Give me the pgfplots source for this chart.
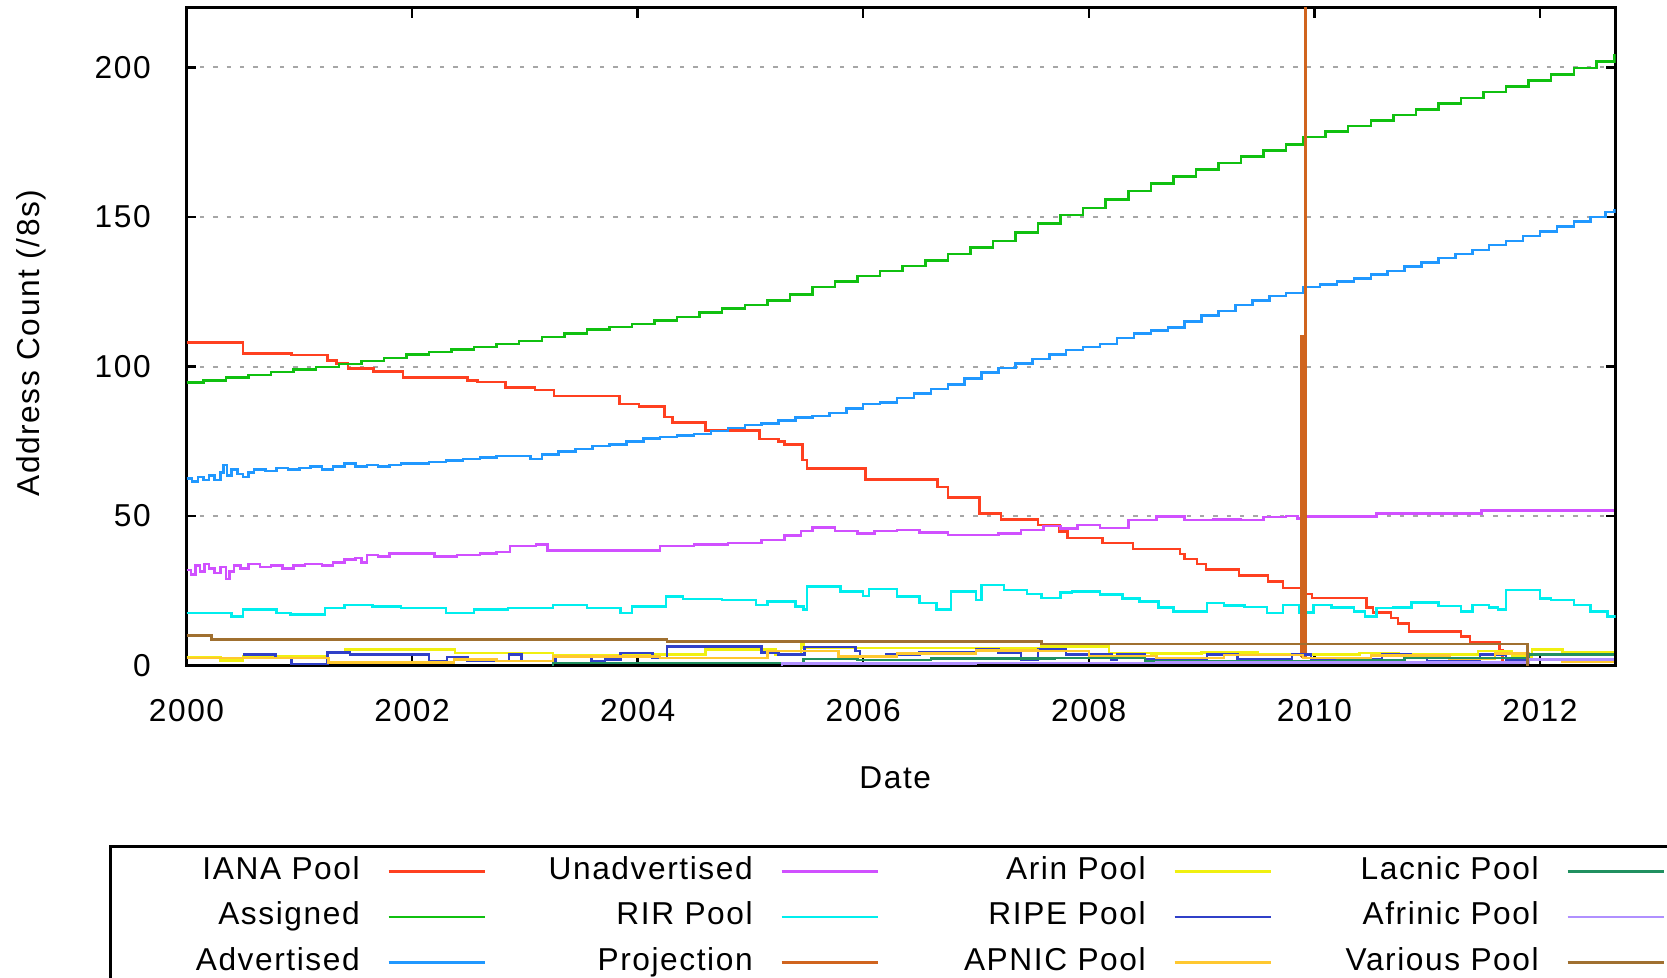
\documentclass[border=0pt]{standalone}
\usepackage{pgfplots}
\pgfplotsset{compat=1.18}
\usepackage{fontspec}
\setmainfont[LetterSpace=5]{Liberation Sans}
\definecolor{cIANA}{RGB}{255,64,32}
\definecolor{cAssigned}{RGB}{16,192,16}
\definecolor{cAdvertised}{RGB}{32,152,255}
\definecolor{cUnadv}{RGB}{208,80,255}
\definecolor{cRIR}{RGB}{0,238,238}
\definecolor{cProj}{RGB}{208,100,30}
\definecolor{cArin}{RGB}{240,240,16}
\definecolor{cRIPE}{RGB}{48,64,200}
\definecolor{cAPNIC}{RGB}{255,200,48}
\definecolor{cLacnic}{RGB}{32,144,96}
\definecolor{cAfrinic}{RGB}{176,144,255}
\definecolor{cVarious}{RGB}{160,112,48}
\newcommand{\lfont}{\fontsize{9.5}{11.4}\selectfont}
\begin{document}
\begin{tikzpicture}
\useasboundingbox (-55.95pt,-93.72pt) rectangle (444.15pt,199.68pt);
\clip (-55.95pt,-93.72pt) rectangle (444.15pt,199.68pt);
\begin{axis}[
  at={(0pt,0pt)}, anchor=south west,
  scale only axis, width=428.7pt, height=197.4pt,
  xmin=2000, xmax=2012.67, ymin=0, ymax=220,
  xtick={2000,2002,...,2012}, ytick={0,50,...,200},
  tick align=inside, major tick length=3pt,
  axis line style={line width=0.7pt},
  every tick/.style={black, line width=0.7pt},
  ymajorgrids,
  major grid style={line width=0.6pt, color=black!35, dash pattern=on 1.3pt off 2.7pt},
  /pgf/number format/assume math mode=true,
  tick label style={font=\lfont},
  xticklabel style={/pgf/number format/1000 sep=},
  xticklabel shift=6.5pt, yticklabel shift=7.2pt,
  label style={font=\lfont},
  xlabel={Date}, ylabel={Address Count (/8s)},
  xlabel style={at={(axis description cs:0.496,-0.1707)}, anchor=center},
  ylabel style={at={(axis description cs:-0.1085,0.49)}, anchor=center},
  no markers,
  every axis plot/.append style={line width=0.75pt},
  legend columns=4,
  legend plot pos=right,
  legend image code/.code={\path[draw=none,fill=none] (0pt,0pt) -- (43.2pt,0pt); \draw[#1, line width=0.75pt] (8.7pt,0pt) -- (37.5pt,0pt);},
  legend style={at={(axis description cs:0,0)}, anchor=north west, xshift=-23.1pt, yshift=-53.9pt,
    draw=black, line width=0.7pt, inner xsep=0pt, inner ysep=3pt,
    column sep=0pt, row sep=4.75pt, font=\lfont,
    nodes={inner sep=0pt, text height=6.9pt, text depth=2pt}},
]
% IANA Pool
\addplot[forget plot, const plot, cIANA] coordinates {
(2000.00,108) (2000.50,104.4) (2000.93,103.8) (2001.25,102) (2001.33,101) (2001.43,99.3)
(2001.66,98.3) (2001.92,96.4) (2002.49,95.3) (2002.58,94.8) (2002.83,93) (2003.09,92.1)
(2003.26,90.1) (2003.84,87.4) (2004.01,86.6) (2004.24,83.1) (2004.31,81.3) (2004.60,78.6)
(2005.08,75.8) (2005.25,74.9) (2005.30,74) (2005.46,68.7) (2005.50,65.9) (2006.02,62.3)
(2006.66,59.7) (2006.75,56.2) (2007.03,50.9) (2007.22,48.9) (2007.55,47) (2007.74,44.8)
(2007.81,42.7) (2008.12,41) (2008.39,39) (2008.81,37.3) (2008.85,35.7) (2008.96,34)
(2009.04,32.1) (2009.33,30.2) (2009.59,28.1) (2009.72,25.9) (2009.89,23.9) (2009.98,22.6)
(2010.46,19.4) (2010.52,17.8) (2010.68,15.9) (2010.74,14) (2010.84,11.4) (2011.30,9.8)
(2011.38,7.8) (2011.64,5) (2011.67,1) (2011.68,1)
};
% Assigned
\addplot[forget plot, const plot, cAssigned] coordinates {
(2000.00,94.6) (2000.15,95.4) (2000.35,96.3) (2000.55,97.2) (2000.75,98.1) (2000.95,99.0)
(2001.15,99.9) (2001.35,100.8) (2001.55,101.8) (2001.75,102.9) (2001.95,104.0) (2002.15,104.8)
(2002.35,105.7) (2002.55,106.6) (2002.75,107.5) (2002.95,108.6) (2003.15,109.9) (2003.35,111.0)
(2003.55,112.3) (2003.75,113.2) (2003.95,114.2) (2004.15,115.3) (2004.35,116.6) (2004.55,118.0)
(2004.75,119.4) (2004.95,120.6) (2005.15,122.0) (2005.35,124.0) (2005.55,126.5) (2005.75,128.5)
(2005.95,130.3) (2006.15,132.0) (2006.35,133.6) (2006.55,135.4) (2006.75,137.6) (2006.95,139.8)
(2007.15,142.0) (2007.35,144.8) (2007.55,147.8) (2007.75,150.6) (2007.95,153.0) (2008.15,155.8)
(2008.35,158.6) (2008.55,161.2) (2008.75,163.6) (2008.95,165.8) (2009.15,168.0) (2009.35,170.2)
(2009.55,172.2) (2009.75,174.2) (2009.90,176.8) (2010.10,178.6) (2010.30,180.4) (2010.50,182.2)
(2010.70,184.1) (2010.90,186.0) (2011.10,187.9) (2011.30,189.8) (2011.50,191.7) (2011.70,193.6)
(2011.90,195.6) (2012.10,197.6) (2012.30,199.8) (2012.50,202.0) (2012.66,204.4)
};
% Advertised
\addplot[forget plot, const plot, cAdvertised] coordinates {
(2000.00,62.5) (2000.05,61.5) (2000.10,63.0) (2000.15,62.0) (2000.20,63.5) (2000.25,62.0)
(2000.30,64.5) (2000.33,67.0) (2000.36,63.5) (2000.40,65.5) (2000.45,64.0) (2000.50,63.0)
(2000.55,64.5) (2000.60,65.5) (2000.70,65.0) (2000.80,66.0) (2000.90,65.5) (2001.00,66.0)
(2001.10,66.5) (2001.20,65.5) (2001.30,66.5) (2001.40,67.5) (2001.50,66.5) (2001.60,67.0)
(2001.70,66.5) (2001.80,67.0) (2001.90,67.5) (2002.00,67.5) (2002.15,68.0) (2002.30,68.5)
(2002.45,69.0) (2002.60,69.5) (2002.75,70.0) (2002.90,70.0) (2003.05,69.0) (2003.15,70.5)
(2003.30,71.5) (2003.45,72.5) (2003.60,73.5) (2003.75,74.0) (2003.90,75.0) (2004.05,76.0)
(2004.20,76.5) (2004.35,77.0) (2004.50,77.5) (2004.65,78.5) (2004.80,79.5) (2004.95,80.5)
(2005.10,81.0) (2005.25,82.0) (2005.40,83.0) (2005.55,83.5) (2005.70,84.5) (2005.85,86.0)
(2006.00,87.5) (2006.15,88.0) (2006.30,89.5) (2006.45,91.0) (2006.60,92.5) (2006.75,94.0)
(2006.90,96.0) (2007.05,98.0) (2007.20,99.5) (2007.35,101.0) (2007.50,102.5) (2007.65,104.0)
(2007.80,105.5) (2007.95,106.5) (2008.10,107.5) (2008.25,109.5) (2008.40,111.0) (2008.55,112.0)
(2008.70,113.0) (2008.85,115.0) (2009.00,117.0) (2009.15,118.5) (2009.30,120.5) (2009.45,122.0)
(2009.60,123.5) (2009.75,124.5) (2009.90,126.5) (2010.05,127.5) (2010.20,128.5) (2010.35,129.5)
(2010.50,130.8) (2010.65,132.0) (2010.80,133.5) (2010.95,134.8) (2011.10,136.2) (2011.25,137.6)
(2011.40,139.0) (2011.55,140.6) (2011.70,142.0) (2011.85,143.6) (2012.00,145.2) (2012.15,146.8)
(2012.30,148.4) (2012.45,150.0) (2012.58,151.6) (2012.66,152.8)
};
% Unadvertised
\addplot[forget plot, const plot, cUnadv] coordinates {
(2000.00,32) (2000.04,30.5) (2000.08,33.5) (2000.12,31.5) (2000.16,34) (2000.20,32.5)
(2000.25,31) (2000.30,33) (2000.35,29) (2000.38,31.5) (2000.42,33.5) (2000.48,32.5)
(2000.55,34) (2000.65,33) (2000.75,33.5) (2000.85,32.5) (2000.95,33.5) (2001.05,34)
(2001.20,33.5) (2001.30,34.5) (2001.40,35.5) (2001.50,36) (2001.55,34.5) (2001.60,37)
(2001.70,36.5) (2001.80,37.5) (2002.00,37.5) (2002.20,36.5) (2002.40,37) (2002.60,37.5)
(2002.75,38) (2002.87,40) (2003.10,40.5) (2003.20,38.5) (2003.50,38.5) (2003.80,38.5)
(2004.10,38.5) (2004.20,40) (2004.50,40.5) (2004.80,41) (2005.10,42) (2005.30,43.5)
(2005.45,45) (2005.55,46.2) (2005.75,45) (2005.95,44.2) (2006.10,45) (2006.30,45.3)
(2006.50,44.5) (2006.75,43.7) (2007.00,43.7) (2007.20,44.2) (2007.40,45.3) (2007.60,46.7)
(2007.75,45.9) (2007.90,47) (2008.10,46) (2008.35,48.7) (2008.60,49.8) (2008.85,48.7)
(2009.10,48.9) (2009.35,48.7) (2009.55,49.6) (2009.75,50) (2009.85,49.2) (2009.92,49.8)
(2010.55,50.9) (2011.48,51.8) (2012.66,51.8)
};
% RIR Pool
\addplot[forget plot, const plot, cRIR] coordinates {
(2000.00,17.6) (2000.40,16.4) (2000.50,18.7) (2000.80,17.6) (2000.92,17) (2001.23,19.2)
(2001.40,20.3) (2001.65,19.8) (2001.90,19.2) (2002.30,17.6) (2002.55,18.7) (2002.85,19.2)
(2003.25,20.3) (2003.55,19.2) (2003.85,17.6) (2003.95,19.8) (2004.25,23.1) (2004.40,22.3)
(2004.75,22) (2005.05,20.3) (2005.15,21.5) (2005.40,19.8) (2005.47,18.7) (2005.50,26.4)
(2005.80,24.8) (2006.00,23.2) (2006.05,25.6) (2006.30,23.1) (2006.50,21) (2006.65,18.7)
(2006.78,24.8) (2007.00,22) (2007.05,27) (2007.25,25.3) (2007.45,24) (2007.58,22.6)
(2007.75,24.5) (2007.85,24.8) (2008.10,23.7) (2008.30,22.5) (2008.45,21.4) (2008.62,19.5)
(2008.75,18.1) (2009.05,20.9) (2009.20,20.1) (2009.38,19.6) (2009.58,17.6) (2009.72,20.3)
(2009.87,17.8) (2009.99,20.3) (2010.15,19.5) (2010.35,18.1) (2010.45,16.4) (2010.55,19.2)
(2010.70,19.5) (2010.86,21.1) (2011.10,20) (2011.30,18.1) (2011.40,20.3) (2011.55,19.5)
(2011.63,18.7) (2011.70,25.3) (2012.00,22.5) (2012.10,22) (2012.30,20.2) (2012.45,18.1)
(2012.60,16.4) (2012.66,16)
};
% Projection
\addplot[forget plot, cProj] coordinates {
(2009.885,3) (2009.885,110) (2009.895,110) (2009.895,3) (2009.905,3) (2009.905,110)
(2009.912,110) (2009.912,3) (2009.921,3) (2009.921,300)
};
% Arin Pool
\addplot[forget plot, const plot, cArin] coordinates {
(2000.00,2.9) (2000.30,1.7) (2000.50,3.1) (2001.25,4.2) (2001.41,5.3) (2002.38,4.2)
(2003.25,3.3) (2003.97,3.7) (2004.60,5.3) (2005.22,3.7) (2005.45,7.6) (2005.47,5.9)
(2007.58,6.4) (2008.18,4.2) (2008.55,4) (2009.00,4.4) (2009.50,3.7) (2010.40,4.2)
(2010.75,3.7) (2011.45,4.8) (2011.75,3) (2011.93,5.3) (2012.20,4.4) (2012.66,4.4)
};
% RIPE Pool
\addplot[forget plot, const plot, cRIPE] coordinates {
(2000.50,3.7) (2000.79,2.6) (2000.93,0.5) (2001.25,4.4) (2001.45,3.7) (2002.15,1.5)
(2002.31,2.8) (2002.49,1.5) (2002.86,3.7) (2002.97,1.5) (2003.27,2.8) (2003.59,1.5)
(2003.71,2) (2003.85,4.2) (2004.13,2.6) (2004.26,6.4) (2005.10,4.4) (2005.25,3.7)
(2005.48,6.2) (2005.93,4.8) (2005.97,3.1) (2006.20,3.7) (2006.50,4.5) (2007.00,5.5)
(2007.20,4.2) (2007.40,2) (2007.55,5.3) (2007.80,3.7) (2008.20,2) (2008.25,3.7)
(2008.50,2) (2009.05,3.7) (2009.32,2) (2009.80,3.7) (2009.97,2) (2010.60,3.7)
(2010.85,3) (2011.00,1.5) (2011.47,3.7) (2011.70,2) (2011.93,1.8) (2012.66,1.8)
};
% APNIC Pool
\addplot[forget plot, const plot, cAPNIC] coordinates {
(2000.00,2.6) (2001.26,1.1) (2002.37,2) (2002.75,1.5) (2003.25,3.1) (2004.20,2.6)
(2005.15,4.8) (2005.78,3.1) (2006.30,4.0) (2007.00,5.0) (2007.55,4.8) (2008.00,3.2)
(2008.60,2.5) (2009.20,3.6) (2009.90,2.6) (2010.50,3.3) (2011.20,2.4) (2011.60,4.0)
(2011.90,2.0) (2012.20,1.2) (2012.66,1.2)
};
% Lacnic Pool
\addplot[forget plot, const plot, cLacnic] coordinates {
(2003.24,0) (2003.25,0.9) (2005.47,2.2) (2005.95,1.8) (2006.60,2.4) (2007.70,2.6)
(2008.50,1.4) (2009.30,1.6) (2010.20,1.9) (2010.80,2.6) (2011.90,3.7) (2012.66,3.7)
};
% Afrinic Pool
\addplot[forget plot, const plot, cAfrinic] coordinates {
(2005.27,0) (2005.28,0.7) (2007.00,0.8) (2008.60,1.1) (2011.90,2.0) (2012.66,2.0)
};
% Various Pool
\addplot[forget plot, const plot, cVarious] coordinates {
(2000.00,10) (2000.22,8.7) (2004.26,8.1) (2007.58,7.2) (2011.89,0) (2011.90,0)
};
% legend, column by column as in the reference
\addlegendimage{cIANA}\addlegendentry{\makebox[74.7pt][r]{IANA Pool}}
\addlegendimage{cUnadv}\addlegendentry{\makebox[74.7pt][r]{Unadvertised}}
\addlegendimage{cArin}\addlegendentry{\makebox[74.7pt][r]{Arin Pool}}
\addlegendimage{cLacnic}\addlegendentry{\makebox[74.7pt][r]{Lacnic Pool}}
\addlegendimage{cAssigned}\addlegendentry{\makebox[74.7pt][r]{Assigned}}
\addlegendimage{cRIR}\addlegendentry{\makebox[74.7pt][r]{RIR Pool}}
\addlegendimage{cRIPE}\addlegendentry{\makebox[74.7pt][r]{RIPE Pool}}
\addlegendimage{cAfrinic}\addlegendentry{\makebox[74.7pt][r]{Afrinic Pool}}
\addlegendimage{cAdvertised}\addlegendentry{\makebox[74.7pt][r]{Advertised}}
\addlegendimage{cProj}\addlegendentry{\makebox[74.7pt][r]{Projection}}
\addlegendimage{cAPNIC}\addlegendentry{\makebox[74.7pt][r]{APNIC Pool}}
\addlegendimage{cVarious}\addlegendentry{\makebox[74.7pt][r]{Various Pool}}
\end{axis}
\end{tikzpicture}
\end{document}
